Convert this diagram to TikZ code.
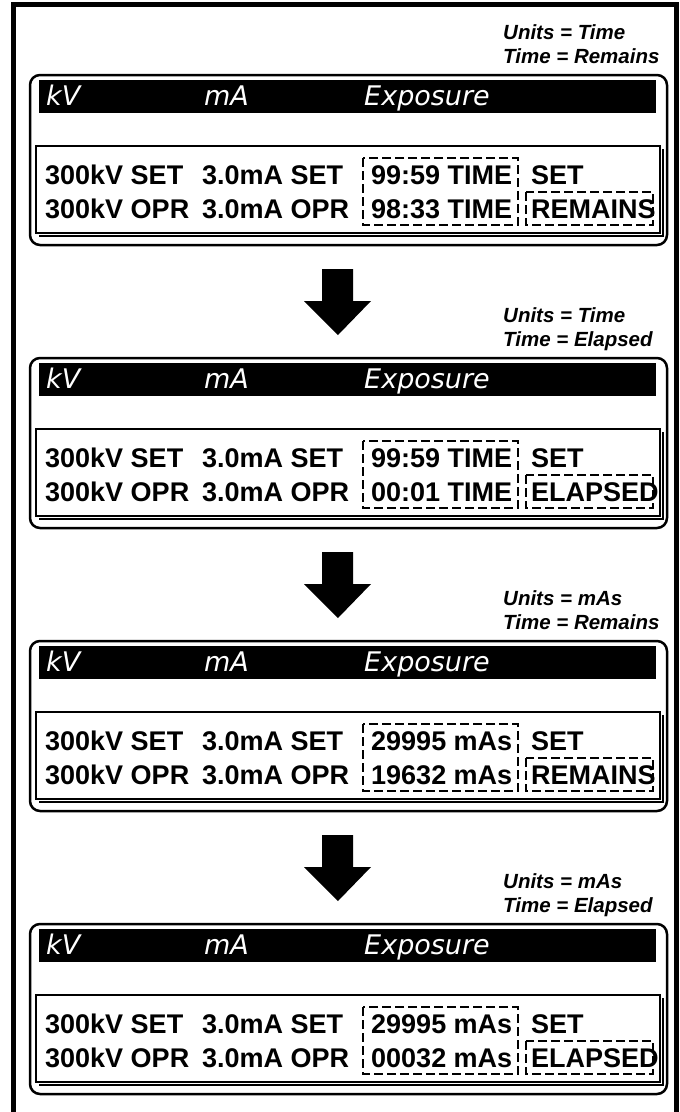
\documentclass[tikz,border=0pt]{standalone}
\usepackage{fontspec}
\setmainfont{Liberation Sans}
\newfontfamily\barfont{DejaVu Sans}
\tikzset{
  panel/.style={line width=2.5pt, rounded corners=10pt},
  lcdframe/.style={line width=1.3pt},
  dashbox/.style={line width=1.1pt, dash pattern=on 9pt off 4pt},
  barlabel/.style={anchor=base west, inner sep=0pt, text=white, font=\barfont\itshape\fontsize{27}{31}\selectfont},
  lcd/.style={anchor=base west, inner sep=0pt, font=\bfseries\fontsize{27}{31}\selectfont},
  mode/.style={anchor=base west, inner sep=0pt, font=\bfseries\itshape\fontsize{20.5}{23}\selectfont}
}
\begin{document}
\begin{tikzpicture}[x=1pt,y=-1pt]
\useasboundingbox (0,0) rectangle (680,1112);
\draw[line width=5pt] (13.5,4.7) rectangle (676.5,1125);

% time remains
\begin{scope}
\node[mode] (units1) at (503,39) {Units = Time};
\node[mode] (time1) at (503,63) {Time = Remains};
\draw[panel] (30,75) rectangle (667,245);
\fill (39,80) rectangle (656,113);
\node[barlabel] (kv1) at (46,105) {kV};
\node[barlabel] (ma1) at (204,105) {mA};
\node[barlabel] (exp1) at (364,105) {Exposure};
\draw[lcdframe] (36,146) rectangle (660,233);
\draw[lcdframe] (39,236) -- (663,236) -- (663,149);
\draw[dashbox] (363,158) rectangle (518,225);
\draw[dashbox] (526,192) rectangle (653,225);
\node[lcd] (kvset1) at (45,184) {300kV SET};
\node[lcd] (maset1) at (202,184) {3.0mA SET};
\node[lcd] (valset1) at (371,184) {99:59 TIME};
\node[lcd] (set1) at (531,184) {SET};
\node[lcd] (kvopr1) at (45,218) {300kV OPR};
\node[lcd] (maopr1) at (202,218) {3.0mA OPR};
\node[lcd] (valopr1) at (371,218) {98:33 TIME};
\node[lcd] (state1) at (531,218) {REMAINS};
\fill (322,269) -- (353,269) -- (353,301) -- (371,301) -- (338,335) -- (304,301) -- (322,301) -- cycle;
\end{scope}

% time elapsed
\begin{scope}[yshift=-283pt]
\node[mode] (units2) at (503,39) {Units = Time};
\node[mode] (time2) at (503,63) {Time = Elapsed};
\draw[panel] (30,75) rectangle (667,245);
\fill (39,80) rectangle (656,113);
\node[barlabel] (kv2) at (46,105) {kV};
\node[barlabel] (ma2) at (204,105) {mA};
\node[barlabel] (exp2) at (364,105) {Exposure};
\draw[lcdframe] (36,146) rectangle (660,233);
\draw[lcdframe] (39,236) -- (663,236) -- (663,149);
\draw[dashbox] (363,158) rectangle (518,225);
\draw[dashbox] (526,192) rectangle (653,225);
\node[lcd] (kvset2) at (45,184) {300kV SET};
\node[lcd] (maset2) at (202,184) {3.0mA SET};
\node[lcd] (valset2) at (371,184) {99:59 TIME};
\node[lcd] (set2) at (531,184) {SET};
\node[lcd] (kvopr2) at (45,218) {300kV OPR};
\node[lcd] (maopr2) at (202,218) {3.0mA OPR};
\node[lcd] (valopr2) at (371,218) {00:01 TIME};
\node[lcd] (state2) at (531,218) {ELAPSED};
\fill (322,269) -- (353,269) -- (353,301) -- (371,301) -- (338,335) -- (304,301) -- (322,301) -- cycle;
\end{scope}

% mAs remains
\begin{scope}[yshift=-566pt]
\node[mode] (units3) at (503,39) {Units = mAs};
\node[mode] (time3) at (503,63) {Time = Remains};
\draw[panel] (30,75) rectangle (667,245);
\fill (39,80) rectangle (656,113);
\node[barlabel] (kv3) at (46,105) {kV};
\node[barlabel] (ma3) at (204,105) {mA};
\node[barlabel] (exp3) at (364,105) {Exposure};
\draw[lcdframe] (36,146) rectangle (660,233);
\draw[lcdframe] (39,236) -- (663,236) -- (663,149);
\draw[dashbox] (363,158) rectangle (518,225);
\draw[dashbox] (526,192) rectangle (653,225);
\node[lcd] (kvset3) at (45,184) {300kV SET};
\node[lcd] (maset3) at (202,184) {3.0mA SET};
\node[lcd] (valset3) at (371,184) {29995 mAs};
\node[lcd] (set3) at (531,184) {SET};
\node[lcd] (kvopr3) at (45,218) {300kV OPR};
\node[lcd] (maopr3) at (202,218) {3.0mA OPR};
\node[lcd] (valopr3) at (371,218) {19632 mAs};
\node[lcd] (state3) at (531,218) {REMAINS};
\fill (322,269) -- (353,269) -- (353,301) -- (371,301) -- (338,335) -- (304,301) -- (322,301) -- cycle;
\end{scope}

% mAs elapsed
\begin{scope}[yshift=-849pt]
\node[mode] (units4) at (503,39) {Units = mAs};
\node[mode] (time4) at (503,63) {Time = Elapsed};
\draw[panel] (30,75) rectangle (667,245);
\fill (39,80) rectangle (656,113);
\node[barlabel] (kv4) at (46,105) {kV};
\node[barlabel] (ma4) at (204,105) {mA};
\node[barlabel] (exp4) at (364,105) {Exposure};
\draw[lcdframe] (36,146) rectangle (660,233);
\draw[lcdframe] (39,236) -- (663,236) -- (663,149);
\draw[dashbox] (363,158) rectangle (518,225);
\draw[dashbox] (526,192) rectangle (653,225);
\node[lcd] (kvset4) at (45,184) {300kV SET};
\node[lcd] (maset4) at (202,184) {3.0mA SET};
\node[lcd] (valset4) at (371,184) {29995 mAs};
\node[lcd] (set4) at (531,184) {SET};
\node[lcd] (kvopr4) at (45,218) {300kV OPR};
\node[lcd] (maopr4) at (202,218) {3.0mA OPR};
\node[lcd] (valopr4) at (371,218) {00032 mAs};
\node[lcd] (state4) at (531,218) {ELAPSED};
\end{scope}
\end{tikzpicture}
\end{document}
